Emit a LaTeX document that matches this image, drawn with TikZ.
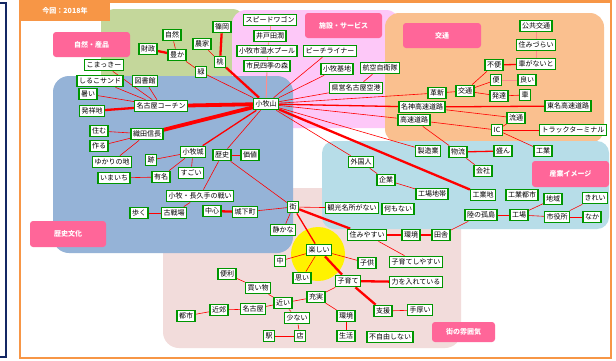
\documentclass[tikz,border=0pt]{standalone}
\usepackage{fontspec}
\setmainfont{Noto Sans CJK JP}

\definecolor{frameorange}{RGB}{247,150,70}
\definecolor{navyline}{RGB}{20,40,100}
\definecolor{grnzone}{RGB}{196,215,155}
\definecolor{pnkzone}{RGB}{253,200,248}
\definecolor{orgzone}{RGB}{250,192,143}
\definecolor{bluzone}{RGB}{149,179,215}
\definecolor{cynzone}{RGB}{183,221,232}
\definecolor{rosezone}{RGB}{242,220,219}
\definecolor{tagpink}{RGB}{255,102,153}
\definecolor{boxgreen}{RGB}{0,150,0}
\definecolor{linkred}{RGB}{255,0,0}
\definecolor{palered}{RGB}{255,140,140}

\pgfdeclarelayer{regions}
\pgfdeclarelayer{links}
\pgfsetlayers{regions,links,main}

\tikzset{
  kw/.style={draw=boxgreen, line width=1.2pt, fill=white, text=black,
    inner xsep=2pt, inner ysep=1pt, minimum height=11.5pt,
    font=\fontsize{7}{8}\selectfont},
  zonetag/.style={fill=tagpink, rounded corners=3pt, text=white, inner sep=0pt,
    font=\fontsize{7}{8}\selectfont\bfseries},
  l1/.style={draw=linkred, line width=0.6pt},
  l2/.style={draw=linkred, line width=1.3pt},
  l3/.style={draw=linkred, line width=2.3pt},
  l4/.style={draw=linkred, line width=3.8pt},
  lp/.style={draw=palered, line width=1pt},
}

\begin{document}
\begin{tikzpicture}[x=1pt,y=-1pt]
\useasboundingbox (0,0) rectangle (616,360);

% ---------- background zones and frame ----------
\begin{pgfonlayer}{regions}
  \fill[white] (0,0) rectangle (616,360);
  \draw[navyline, line width=2pt] (0,3) -- (6,3) -- (6,357) -- (0,357);
  \fill[grnzone, rounded corners=14pt] (101,9) rectangle (246,90);
  \fill[pnkzone, rounded corners=14pt] (232,10) rectangle (400,128);
  \fill[orgzone, rounded corners=14pt] (385,13) rectangle (604,143);
  \fill[rosezone, rounded corners=16pt] (163,188) rectangle (461,348);
  \fill[bluzone, rounded corners=16pt] (53,76) rectangle (293,253);
  \fill[cynzone, rounded corners=12pt] (322,141) rectangle (609,229);
  \fill[yellow] (318,254) circle (27pt);
  \draw[frameorange, line width=2.5pt] (20,1.5) rectangle (611,358);
  \fill[frameorange] (20,0) rectangle (110,21);
\end{pgfonlayer}

\node[text=white, font=\fontsize{7}{8}\selectfont\bfseries] (title) at (65,11) {今回：2018年};

% ---------- zone labels ----------
\node[zonetag, minimum width=77pt, minimum height=25pt] (tNature)   at (91.5,44.5) {自然・産品};
\node[zonetag, minimum width=77pt, minimum height=25pt] (tFacility) at (343.5,25.5) {施設・サービス};
\node[zonetag, minimum width=78pt, minimum height=25pt] (tTraffic)  at (442,35.5) {交通};
\node[zonetag, minimum width=77pt, minimum height=26pt] (tIndustry) at (570.5,174) {産業イメージ};
\node[zonetag, minimum width=76pt, minimum height=26pt] (tHistory)  at (68,234) {歴史文化};
\node[zonetag, minimum width=63pt, minimum height=20pt] (tTown)     at (463.5,332) {街の雰囲気};

% ---------- nature / products ----------
\node[kw] (shinooka) at (222,27) {篠岡};
\node[kw] (jizen)    at (172,35) {自然};
\node[kw] (nouka)    at (202,44) {農家};
\node[kw] (zaisei)   at (148,49) {財政};
\node[kw] (yutaka)   at (177,55) {豊か};
\node[kw] (momo)     at (220,62) {桃};
\node[kw] (midori)   at (201,72) {緑};
\node[kw] (komakki)  at (104,65) {こまっきー};
\node[kw] (shiruko)  at (100,81) {しるこサンド};
\node[kw] (toshokan) at (145,81) {図書館};
\node[kw] (atsui)    at (88,94) {暑い};
\node[kw] (hassho)   at (92,111) {発祥地};
\node[kw] (cochin)   at (161,106) {名古屋コーチン};

% ---------- facilities / services ----------
\node[kw] (speed)      at (270,20) {スピードワゴン};
\node[kw] (idota)      at (270,36) {井戸田潤};
\node[kw] (pool)       at (267,51) {小牧市温水プール};
\node[kw] (shiki)      at (267,66) {市民四季の森};
\node[kw] (komakiyama) at (266,104) {小牧山};
\node[kw] (peach)      at (330,51) {ピーチライナー};
\node[kw] (kichi)      at (337,69) {小牧基地};
\node[kw] (jieitai)    at (380,68) {航空自衛隊};
\node[kw] (airport)    at (356,88) {県営名古屋空港};

% ---------- traffic ----------
\node[kw] (kakushin)  at (437,93) {革新};
\node[kw] (meishin)   at (422,107) {名神高速道路};
\node[kw] (kosoku)    at (414,120) {高速道路};
\node[kw] (kotsu)     at (465,91) {交通};
\node[kw] (koukyou)   at (536,26) {公共交通};
\node[kw] (sumizurai) at (536,45) {住みづらい};
\node[kw] (kurumanai) at (536,64) {車がないと};
\node[kw] (fuben)     at (494,65) {不便};
\node[kw] (ben)       at (496,80) {便};
\node[kw] (yoi)       at (527,80) {良い};
\node[kw] (hattatsu)  at (499,96) {発達};
\node[kw] (kuruma)    at (525,95) {車};
\node[kw] (tomei)     at (568,106) {東名高速道路};
\node[kw] (ryutsu)    at (516,118) {流通};
\node[kw] (ic)        at (497,130) {IC};
\node[kw] (truck)     at (573,130) {トラックターミナル};

% ---------- industry image ----------
\node[kw] (seizou)       at (428,151) {製造業};
\node[kw] (butsuryu)     at (458,152) {物流};
\node[kw] (sakan)        at (503,151) {盛ん};
\node[kw] (kougyou)      at (543,151) {工業};
\node[kw] (kaisha)       at (483,171) {会社};
\node[kw] (gaikoku)      at (361,162) {外国人};
\node[kw] (kigyou)       at (386,180) {企業};
\node[kw] (koujouchitai) at (432,194) {工場地帯};
\node[kw] (kougyouchi)   at (483,195) {工業地};
\node[kw] (kougyoutoshi) at (522,195) {工業都市};
\node[kw] (chiiki)       at (553,199) {地域};
\node[kw] (kirei)        at (595,198) {きれい};
\node[kw] (kankou)       at (352,208) {観光名所がない};
\node[kw] (nanimo)       at (398,209) {何もない};
\node[kw] (kotou)        at (481,215) {陸の孤島};
\node[kw] (koujou)       at (519,215) {工場};
\node[kw] (shiyakusho)   at (557,217) {市役所};
\node[kw] (nakaB)        at (592,217) {なか};

% ---------- history / culture ----------
\node[kw] (nobunaga)  at (147,134) {織田信長};
\node[kw] (sumu)      at (99,131) {住む};
\node[kw] (tsukuru)   at (99,146) {作る};
\node[kw] (yukari)    at (112,162) {ゆかりの地};
\node[kw] (ato)       at (151,160) {跡};
\node[kw] (komakijo)  at (193,152) {小牧城};
\node[kw] (rekishi)   at (222,155) {歴史};
\node[kw] (kachi)     at (250,155) {価値};
\node[kw] (sugoi)     at (191,173) {すごい};
\node[kw] (yumei)     at (161,177) {有名};
\node[kw] (imaichi)   at (114,178) {いまいち};
\node[kw] (tatakai)   at (200,196) {小牧・長久手の戦い};
\node[kw] (kosenjo)   at (174,213) {古戦場};
\node[kw] (aruku)     at (139,213) {歩く};
\node[kw] (chushin)   at (212,211) {中心};
\node[kw] (jokamachi) at (245,212) {城下町};
\node[kw] (machi)     at (293,207) {街};
\node[kw] (shizuka)   at (283,230) {静かな};

% ---------- town atmosphere ----------
\node[kw] (tanoshii)      at (319,250) {楽しい};
\node[kw] (nakaA)         at (280,261) {中};
\node[kw] (omoi)          at (302,278) {思い};
\node[kw] (sumiyasui)     at (367,235) {住みやすい};
\node[kw] (kankyoA)       at (411,235) {環境};
\node[kw] (inaka)         at (441,235) {田舎};
\node[kw] (kodomo)        at (367,263) {子供};
\node[kw] (kosodateyasui) at (416,262) {子育てしやすい};
\node[kw] (kosodate)      at (348,281) {子育て};
\node[kw] (chikara)       at (416,282) {力を入れている};
\node[kw] (benri)         at (227,274) {便利};
\node[kw] (kaimono)       at (258,288) {買い物};
\node[kw] (chikai)        at (283,303) {近い};
\node[kw] (nagoya)        at (253,309) {名古屋};
\node[kw] (kinkou)        at (219,310) {近郊};
\node[kw] (toshi)         at (186,316) {都市};
\node[kw] (sukunai)       at (297,318) {少ない};
\node[kw] (eki)           at (269,336) {駅};
\node[kw] (mise)          at (300,336) {店};
\node[kw] (jujitsu)       at (316,297) {充実};
\node[kw] (shien)         at (383,311) {支援};
\node[kw] (teatsui)       at (420,310) {手厚い};
\node[kw] (kankyoB)       at (346,316) {環境};
\node[kw] (seikatsu)      at (346,336) {生活};
\node[kw] (fujiyu)        at (390,337) {不自由しない};

% ---------- connectors (behind the boxes) ----------
\begin{pgfonlayer}{links}
  \foreach \a/\b in {komakiyama/cochin, komakiyama/nobunaga}
    \draw[l4] (\a) -- (\b);
  \foreach \a/\b in {komakiyama/momo, momo/shinooka, cochin/hassho, zaisei/yutaka,
                     machi/sumiyasui, sumiyasui/kankyoA, kankyoA/inaka,
                     tanoshii/kosodate, kosodate/chikara, kosodate/shien,
                     chushin/jokamachi, komakiyama/kougyouchi}
    \draw[l3] (\a) -- (\b);
  \foreach \a/\b in {komakiyama/komakijo, komakiyama/meishin, meishin/tomei,
                     fuben/kurumanai, butsuryu/sakan, machi/tanoshii}
    \draw[l2] (\a) -- (\b);
  \foreach \a/\b in {ben/yoi, kurumanai/sumizurai, sumizurai/koukyou,
                     komakiyama/shiki, shiki/pool, pool/idota, idota/speed}
    \draw[lp] (\a) -- (\b);
  \foreach \a/\b in {cochin/komakki, cochin/shiruko, cochin/atsui, cochin/toshokan,
                     jizen/yutaka, yutaka/midori, midori/komakiyama, nouka/momo,
                     komakiyama/peach, komakiyama/kichi, komakiyama/airport, airport/jieitai,
                     komakiyama/kakushin, kakushin/kotsu, komakiyama/kosoku,
                     kotsu/fuben, kotsu/ben, kotsu/hattatsu, hattatsu/kuruma,
                     meishin/ryutsu, kosoku/ic, ic/ryutsu, ic/kougyou, ic/truck,
                     kosoku/butsuryu, komakiyama/seizou, butsuryu/kaisha,
                     komakiyama/gaikoku, gaikoku/kigyou, kigyou/koujouchitai,
                     machi/kankou, inaka/kotou, kotou/koujou, koujou/chiiki,
                     koujou/shiyakusho, shiyakusho/kirei, shiyakusho/nakaB,
                     komakiyama/rekishi, rekishi/kachi, rekishi/tatakai, tatakai/kosenjo,
                     kosenjo/aruku, rekishi/machi,
                     nobunaga/sumu, nobunaga/tsukuru, nobunaga/yukari,
                     komakijo/ato, komakijo/yumei, komakijo/sugoi, yumei/imaichi,
                     jokamachi/machi, machi/shizuka,
                     tanoshii/nakaA, tanoshii/omoi, tanoshii/kodomo,
                     sumiyasui/kosodateyasui, shien/teatsui,
                     jujitsu/kosodate, jujitsu/kankyoB, kankyoB/seikatsu,
                     chikai/jujitsu, chikai/kaimono, kaimono/benri, chikai/nagoya,
                     nagoya/kinkou, kinkou/toshi, chikai/sukunai, sukunai/mise, mise/eki}
    \draw[l1] (\a) -- (\b);
\end{pgfonlayer}
\end{tikzpicture}
\end{document}
